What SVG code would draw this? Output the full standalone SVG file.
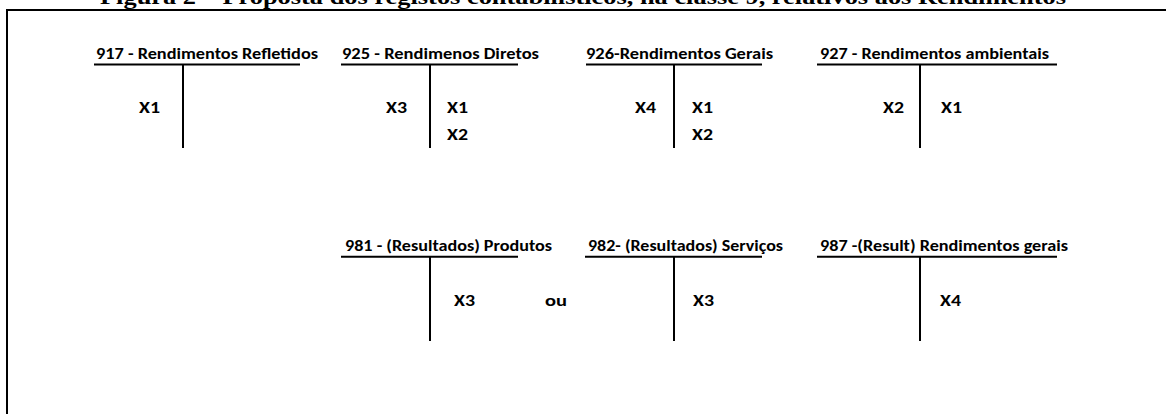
<svg xmlns="http://www.w3.org/2000/svg" width="1166" height="414" viewBox="0 0 1166 414">
<style>
.t{font-family:"Times New Roman","Liberation Serif",serif;font-weight:bold;font-size:22px;fill:#000}
.h{font-family:Calibri,"Liberation Sans",Arial,sans-serif;font-weight:bold;font-size:16px;fill:#000}
.v{font-family:Calibri,"Liberation Sans",Arial,sans-serif;font-weight:bold;font-size:16.5px;fill:#000}
.ln{stroke:#000;stroke-width:2;fill:none}
</style>
<rect width="1166" height="414" fill="#fff"/>
<text class="t" x="100" y="4" textLength="966" lengthAdjust="spacingAndGlyphs">Figura 2 – Proposta dos registos contabilísticos, na classe 9, relativos aos Rendimentos</text>
<path class="ln" d="M7,420 V10 H1175"/>
<g id="c917">
<text class="h" x="96" y="59" textLength="222" lengthAdjust="spacingAndGlyphs">917 - Rendimentos Refletidos</text>
<path class="ln" d="M94,64.5 H300 M183,64.5 V148"/>
<text class="v" x="139" y="113" textLength="21" lengthAdjust="spacingAndGlyphs">X1</text>
</g>
<g id="c925">
<text class="h" x="342" y="59" textLength="197" lengthAdjust="spacingAndGlyphs">925 - Rendimenos Diretos</text>
<path class="ln" d="M341,64.5 H518 M430,64.5 V148"/>
<text class="v" x="386" y="113" textLength="21" lengthAdjust="spacingAndGlyphs">X3</text>
<text class="v" x="447" y="113" textLength="21" lengthAdjust="spacingAndGlyphs">X1</text>
<text class="v" x="447" y="140" textLength="21" lengthAdjust="spacingAndGlyphs">X2</text>
</g>
<g id="c926">
<text class="h" x="586" y="59" textLength="187" lengthAdjust="spacingAndGlyphs">926-Rendimentos Gerais</text>
<path class="ln" d="M586,64.5 H762 M674,64.5 V148"/>
<text class="v" x="635" y="113" textLength="21" lengthAdjust="spacingAndGlyphs">X4</text>
<text class="v" x="692" y="113" textLength="21" lengthAdjust="spacingAndGlyphs">X1</text>
<text class="v" x="692" y="140" textLength="21" lengthAdjust="spacingAndGlyphs">X2</text>
</g>
<g id="c927">
<text class="h" x="820" y="59" textLength="229" lengthAdjust="spacingAndGlyphs">927 - Rendimentos ambientais</text>
<path class="ln" d="M817,64.5 H1057 M920,64.5 V148"/>
<text class="v" x="883" y="113" textLength="21" lengthAdjust="spacingAndGlyphs">X2</text>
<text class="v" x="941" y="113" textLength="21" lengthAdjust="spacingAndGlyphs">X1</text>
</g>
<g id="c981">
<text class="h" x="345" y="251" textLength="207" lengthAdjust="spacingAndGlyphs">981 - (Resultados) Produtos</text>
<path class="ln" d="M341,256.7 H518 M430,256.7 V341"/>
<text class="v" x="454" y="306" textLength="21" lengthAdjust="spacingAndGlyphs">X3</text>
</g>
<g id="ou">
<text class="v" x="545" y="306" textLength="22" lengthAdjust="spacingAndGlyphs">ou</text>
</g>
<g id="c982">
<text class="h" x="588" y="251" textLength="195" lengthAdjust="spacingAndGlyphs">982- (Resultados) Serviços</text>
<path class="ln" d="M585,256.7 H762 M674,256.7 V341"/>
<text class="v" x="693" y="306" textLength="21" lengthAdjust="spacingAndGlyphs">X3</text>
</g>
<g id="c987">
<text class="h" x="820" y="251" textLength="248" lengthAdjust="spacingAndGlyphs">987 -(Result) Rendimentos gerais</text>
<path class="ln" d="M817,256.7 H1057 M920,256.7 V341"/>
<text class="v" x="940" y="306" textLength="21" lengthAdjust="spacingAndGlyphs">X4</text>
</g>
<g id="connectors"></g>
</svg>
